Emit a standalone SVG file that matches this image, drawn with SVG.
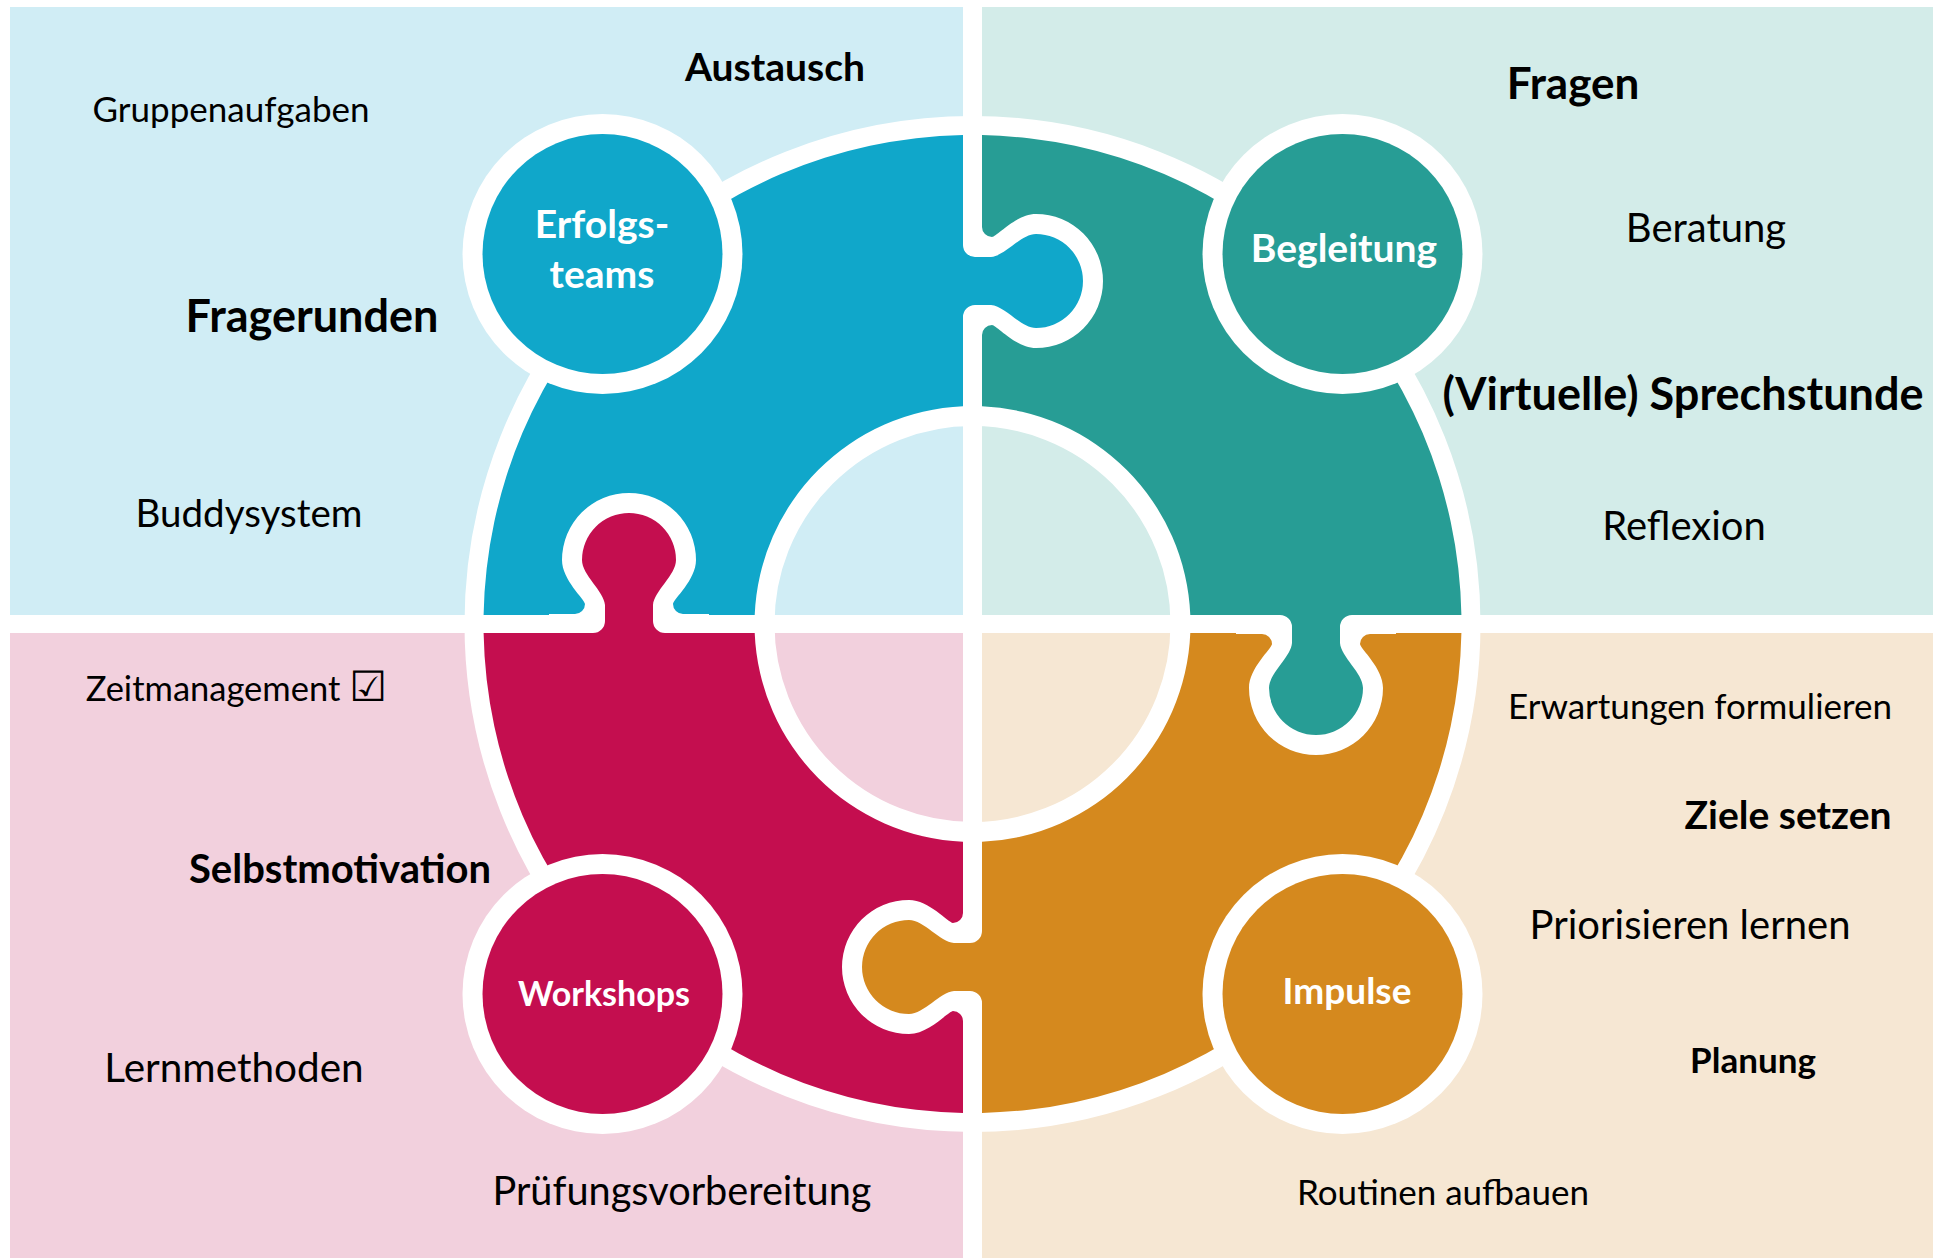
<svg xmlns="http://www.w3.org/2000/svg" width="1937" height="1258" viewBox="0 0 1937 1258">
<style>
.t{font-family:Lato,'Open Sans','DejaVu Sans',sans-serif;fill:#000;text-anchor:middle}
.b{font-weight:bold}
.n{font-family:Lato,'Open Sans',sans-serif;font-weight:bold;fill:#fff;text-anchor:middle}
.halo{fill:#fff}
.blue{fill:#10a7ca}.teal{fill:#279d95}.crim{fill:#c40e4f}.orng{fill:#d5891e}
</style>
<defs>
<path id="tabhalo" d="M 0,-80 L 19,-80 L 19,-54 A 10 10 0 0 0 29,-44 C 34,-44.5 53,-67 73,-67 A 67 67 0 0 1 73,67 C 53,67 34,44.5 29,44 A 10 10 0 0 0 19,54 L 19,80 L 0,80 Z"/>
<path id="tab" d="M -10,-36 L 0,-36 A 12 12 0 0 0 12,-24 L 28,-24 C 42,-25 58,-47 73,-47 A 47 47 0 0 1 73,47 C 58,47 42,25 28,24 L 12,24 A 12 12 0 0 0 0,36 L -10,36 Z"/>
</defs>
<rect width="1937" height="1258" fill="#fff"/>
<g id="backgrounds">
<rect x="10" y="7" width="953" height="608" fill="#d0edf5"/>
<rect x="982" y="7" width="951" height="608" fill="#d3ece9"/>
<rect x="10" y="633" width="953" height="625" fill="#f2d0dd"/>
<rect x="982" y="633" width="951" height="625" fill="#f6e7d3"/>
</g>
<g id="ring">
<circle cx="972.5" cy="624" r="353" fill="none" stroke="#fff" stroke-width="310"/>
<path id="piece-blue" class="blue" d="M 963,135.1 A 489 489 0 0 0 483.6,615 L 754.7,615 A 218 218 0 0 1 963,406.2 Z"/>
<path id="piece-teal" class="teal" d="M 982,135.1 A 489 489 0 0 1 1461.4,615 L 1190.3,615 A 218 218 0 0 0 982,406.2 Z"/>
<path id="piece-crimson" class="crim" d="M 963,1112.9 A 489 489 0 0 1 483.6,633 L 754.7,633 A 218 218 0 0 0 963,841.8 Z"/>
<path id="piece-orange" class="orng" d="M 982,1112.9 A 489 489 0 0 0 1461.4,633 L 1190.3,633 A 218 218 0 0 1 982,841.8 Z"/>
</g>
<g id="tabs">
<g id="tab-blue" transform="translate(963,281)"><use href="#tabhalo" class="halo"/><use href="#tab" class="blue"/></g>
<g id="tab-crimson" transform="translate(629,633) rotate(-90)"><use href="#tabhalo" class="halo"/><use href="#tab" class="crim"/></g>
<g id="tab-teal" transform="translate(1316,615) rotate(90)"><use href="#tabhalo" class="halo"/><use href="#tab" class="teal"/></g>
<g id="tab-orange" transform="translate(982,967) rotate(180)"><use href="#tabhalo" class="halo"/><use href="#tab" class="orng"/></g>
</g>
<g id="node-erfolgsteams">
<circle class="halo" cx="602.5" cy="254" r="140"/>
<circle class="blue" cx="602.5" cy="254" r="120"/>
<text class="n" x="602" y="238" font-size="39">Erfolgs-</text>
<text class="n" x="602" y="288" font-size="39">teams</text>
</g>
<g id="node-begleitung">
<circle class="halo" cx="1342.5" cy="254" r="140"/>
<circle class="teal" cx="1342.5" cy="254" r="120"/>
<text class="n" x="1344" y="262" font-size="39">Begleitung</text>
</g>
<g id="node-workshops">
<circle class="halo" cx="602.5" cy="994" r="140"/>
<circle class="crim" cx="602.5" cy="994" r="120"/>
<text class="n" x="604" y="1006" font-size="34">Workshops</text>
</g>
<g id="node-impulse">
<circle class="halo" cx="1342.5" cy="994" r="140"/>
<circle class="orng" cx="1342.5" cy="994" r="120"/>
<text class="n" x="1347" y="1004" font-size="37">Impulse</text>
</g>
<g id="labels">
<text class="t" x="231" y="122" font-size="35">Gruppenaufgaben</text>
<text class="t b" x="775" y="81" font-size="39">Austausch</text>
<text class="t b" x="312" y="332" font-size="45">Fragerunden</text>
<text class="t" x="249" y="527" font-size="38.5">Buddysystem</text>
<text class="t b" x="1573" y="99" font-size="44">Fragen</text>
<text class="t" x="1706" y="242" font-size="40">Beratung</text>
<text class="t b" x="1683" y="410" font-size="45">(Virtuelle) Sprechstunde</text>
<text class="t" x="1684" y="540" font-size="40">Reflexion</text>
<text class="t" y="701" font-size="34.5"><tspan x="213">Zeitmanagement</tspan><tspan x="368" font-size="42">☑</tspan></text>
<text class="t b" x="340" y="883" font-size="40">Selbstmotivation</text>
<text class="t" x="234" y="1082" font-size="40.5">Lernmethoden</text>
<text class="t" x="682" y="1205" font-size="39.7">Prüfungsvorbereitung</text>
<text class="t" x="1700" y="719" font-size="35">Erwartungen formulieren</text>
<text class="t b" x="1788" y="829" font-size="39">Ziele setzen</text>
<text class="t" x="1690" y="939" font-size="40">Priorisieren lernen</text>
<text class="t b" x="1753" y="1073" font-size="35">Planung</text>
<text class="t" x="1443" y="1205" font-size="35">Routinen aufbauen</text>
</g>
</svg>
